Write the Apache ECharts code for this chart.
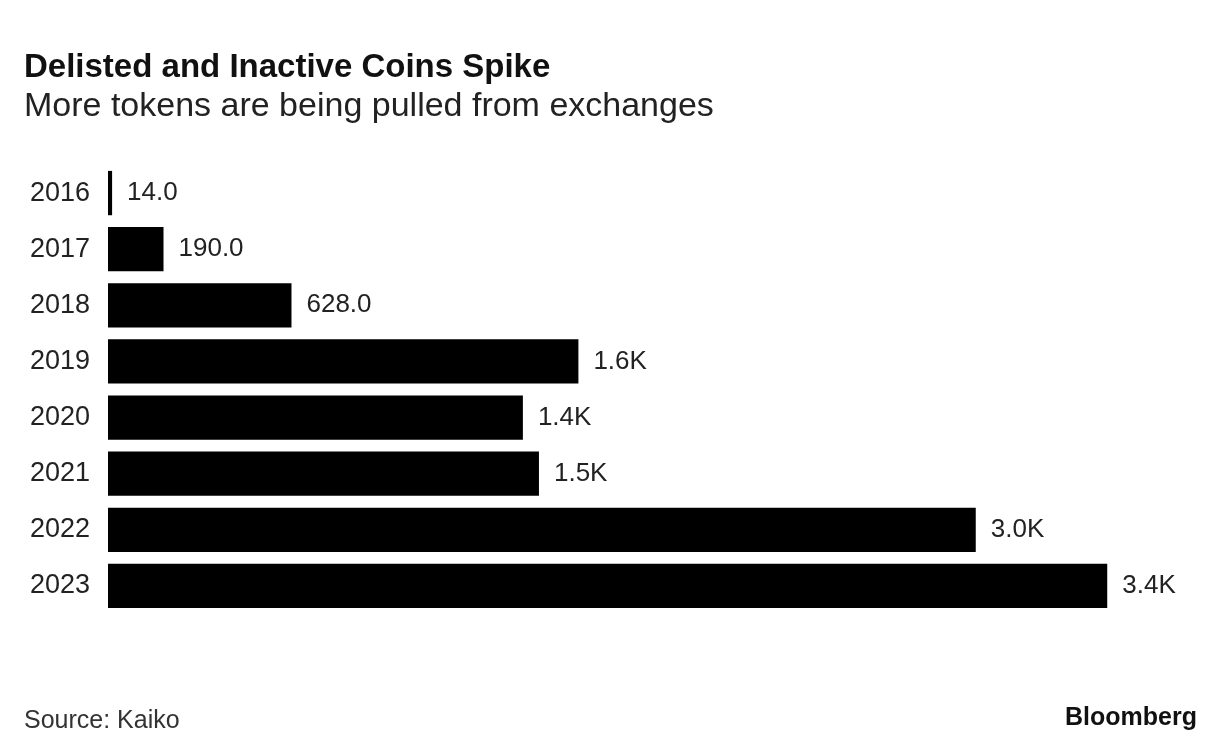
<!DOCTYPE html>
<html><head><meta charset="utf-8">
<script src="https://cdn.jsdelivr.net/npm/echarts@6/dist/echarts.min.js"></script>
<style>html,body{margin:0;padding:0;background:#fff}#c{width:1214px;height:752px}</style>
</head><body><div id="c"></div>
<script>
const categories = ['2016','2017','2018','2019','2020','2021','2022','2023'];
const values = [14, 190, 628, 1610, 1420, 1475, 2970, 3420];
const titleText = 'Delisted and Inactive Coins Spike';
const subtitleText = 'More tokens are being pulled from exchanges';
const sourceText = 'Source: Kaiko';
const brandText = 'Bloomberg';

function fmt(v){ return v < 1000 ? v.toFixed(1) : (v/1000).toFixed(1) + 'K'; }

const chart = echarts.init(document.getElementById('c'));
const font = '"Liberation Sans", Arial, sans-serif';
chart.setOption({
  backgroundColor: '#fff',
  animation: false,
  title: [
    {text: titleText, left: 19, top: 46, textStyle: {fontFamily: font, fontSize: 33, fontWeight: 'bold', color: '#111'}},
    {text: subtitleText, left: 19, top: 85, textStyle: {fontFamily: font, fontSize: 34, fontWeight: 'normal', color: '#222'}},
    {text: sourceText, left: 19, top: 704, textStyle: {fontFamily: font, fontSize: 25, fontWeight: 'normal', color: '#333'}},
    {text: brandText, right: 12, top: 701, textStyle: {fontFamily: font, fontSize: 25, fontWeight: 'bold', color: '#111'}}
  ],
  grid: {left: 108, top: 165, width: 1008, height: 449, containLabel: false},
  xAxis: {type: 'value', min: 0, max: 3450, show: false},
  yAxis: {
    type: 'category', data: categories, inverse: true,
    axisLine: {show: false}, axisTick: {show: false},
    axisLabel: {fontFamily: font, fontSize: 27, color: '#222', margin: 18}
  },
  series: [{
    type: 'bar', data: values, barCategoryGap: '21%',
    itemStyle: {color: '#000'},
    label: {show: true, position: 'right', distance: 15, fontFamily: font, fontSize: 26, color: '#222', formatter: p => fmt(p.value)}
  }]
});
</script></body></html>
